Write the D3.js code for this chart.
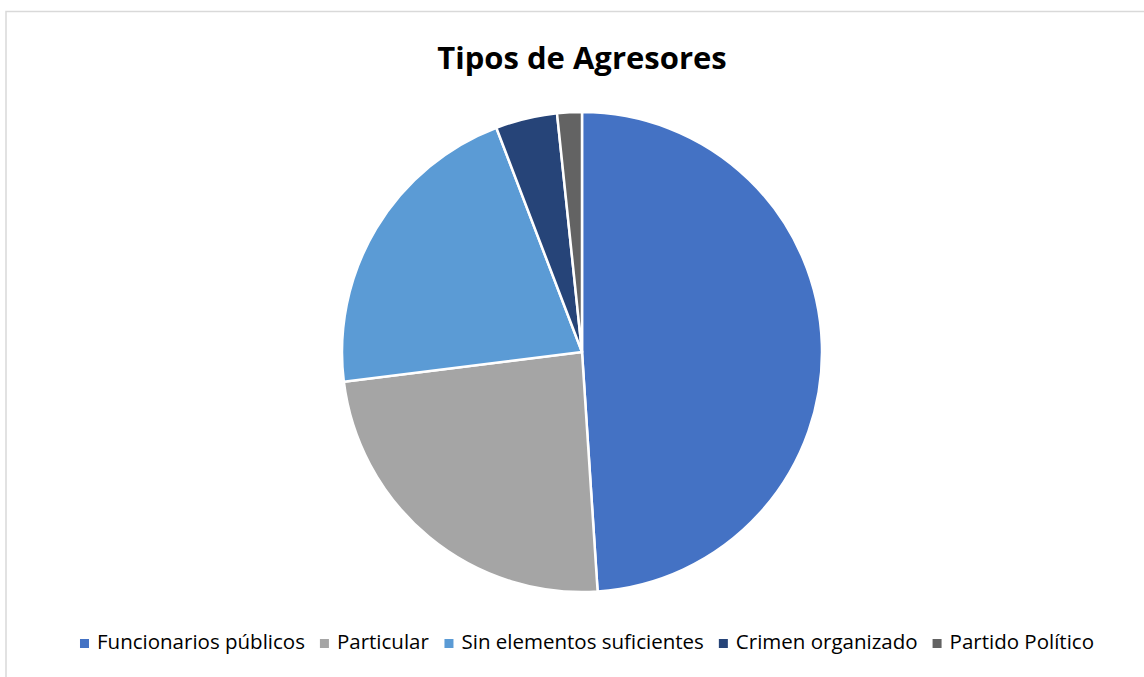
<!DOCTYPE html>
<html><head><meta charset="utf-8">
<script src="https://cdn.jsdelivr.net/npm/d3@7"></script>
<style>body{margin:0;background:#fff}svg{display:block}</style>
</head><body>
<svg id="c" width="1144" height="677"></svg>
<script>
const categories = ["Funcionarios públicos","Particular","Sin elementos suficientes","Crimen organizado","Partido Político"];
const values = [118, 58, 51, 10, 4];
const colors = ["#4472C4","#A5A5A5","#5B9BD5","#264478","#636363"];

const svg = d3.select("#c");
svg.append("rect").attr("x",6).attr("y",11.5).attr("width",1160).attr("height",700)
  .attr("fill","#fff").attr("stroke","#d9d9d9").attr("stroke-width",1.5);

svg.append("text").attr("x",582).attr("y",69).attr("text-anchor","middle")
  .attr("font-family","'Open Sans', sans-serif").attr("font-weight","bold").attr("font-size",31)
  .attr("fill","#000").text("Tipos de Agresores");

const data = categories.map((c,i)=>({c, v:values[i], col:colors[i]}));
const pie = d3.pie().value(d=>d.v).sort(null);
const arc = d3.arc().innerRadius(0).outerRadius(240);
const g = svg.append("g").attr("transform","translate(582,352)");
g.selectAll("path").data(pie(data)).join("path")
  .attr("d",arc).attr("fill",d=>d.data.col).attr("stroke","#fff").attr("stroke-width",2.5).attr("stroke-linejoin","round");

// legend
const lg = svg.append("g");
const font = "'Open Sans', sans-serif";
const fs = 20.5;
const items = lg.selectAll("g").data(data).join("g");
items.append("rect").attr("width",9).attr("height",9).attr("fill",d=>d.col);
items.append("text").attr("x",17).attr("y",10).attr("font-family",font).attr("font-size",fs).attr("fill","#000").text(d=>d.c);
let widths = [];
items.each(function(){ widths.push(this.getBBox().width); });
const gap = 15;
const total = d3.sum(widths) + gap*(widths.length-1);
let x = 587 - total/2;
items.each(function(d,i){ d3.select(this).attr("transform",`translate(${x},${639})`); x += widths[i]+gap; });
</script>
</body></html>
